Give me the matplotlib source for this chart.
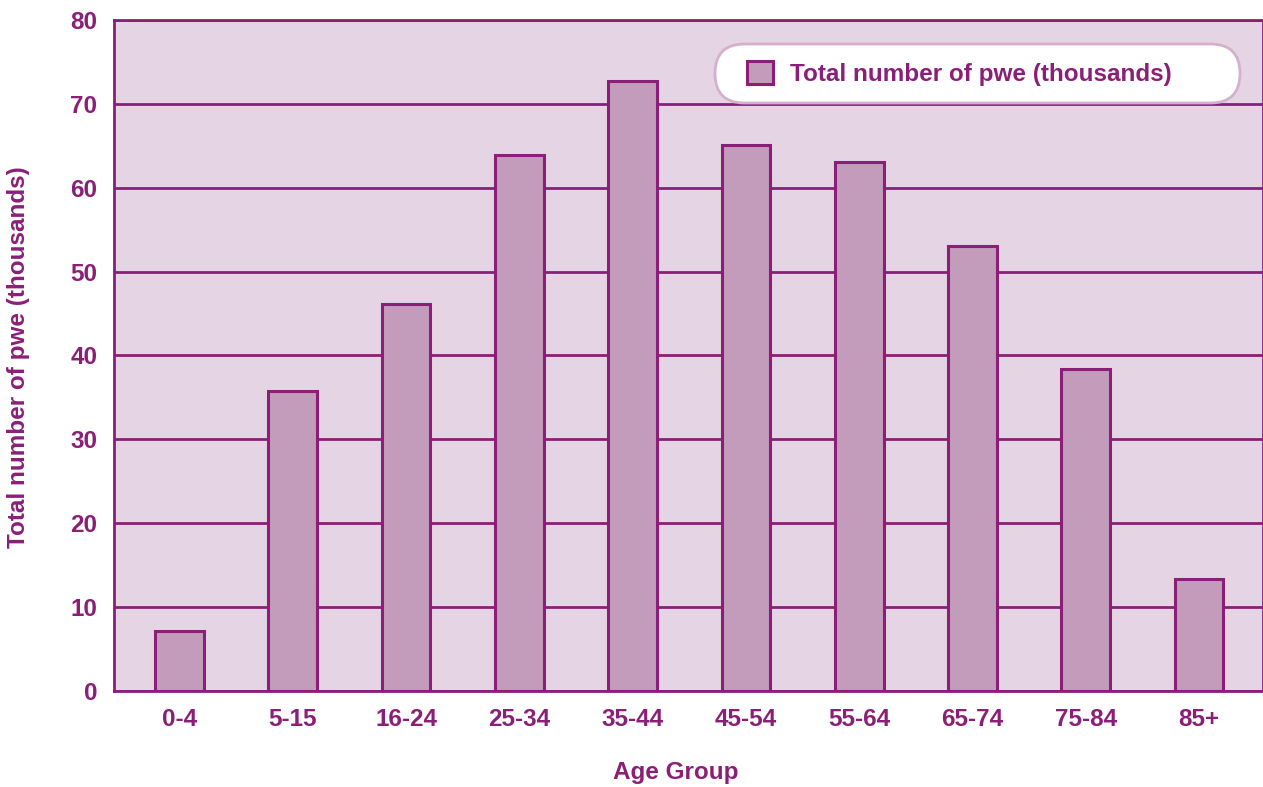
import matplotlib
matplotlib.use("Agg")
import matplotlib.pyplot as plt
from matplotlib.patches import FancyBboxPatch

# age bands and totals (thousands)
age_groups = ["0-4", "5-15", "16-24", "25-34", "35-44", "45-54", "55-64", "65-74", "75-84", "85+"]
pwe_totals = [7.1, 35.8, 46.1, 63.9, 72.7, 65.1, 63.1, 53.1, 38.4, 13.4]
y_ticks = [0, 10, 20, 30, 40, 50, 60, 70, 80]

PURPLE = "#8B1F78"
BAR_FILL = "#C39BBB"
PANEL = "#E5D4E4"
LEGEND_EDGE = "#D4B0CE"
FS = 17.5

plt.rcParams["font.family"] = ["Liberation Sans", "DejaVu Sans"]
plt.rcParams["font.weight"] = "bold"

fig = plt.figure(figsize=(12.63, 7.87), dpi=100)
ax = fig.add_axes([114 / 1263, 1 - 691 / 787, 1 - 114 / 1263, (691 - 20) / 787])
ax.set_facecolor(PANEL)

x = range(len(age_groups))
bars = ax.bar(x, pwe_totals, width=0.43, color=BAR_FILL, edgecolor=PURPLE,
              linewidth=2.2, zorder=3, label="Total number of pwe (thousands)")

ax.set_ylim(0, 80)
ax.set_xlim(-0.578, 9.565)
ax.set_yticks(y_ticks)
ax.set_xticks(list(x))
ax.set_xticklabels(age_groups)
ax.yaxis.grid(True, color=PURPLE, linewidth=2, zorder=1)
ax.set_axisbelow(True)
ax.tick_params(length=0, labelsize=FS, labelcolor=PURPLE)
ax.tick_params(axis="y", pad=12)
ax.tick_params(axis="x", pad=12)
for s in ax.spines.values():
    s.set_color(PURPLE)
    s.set_linewidth(2)

# axis titles placed in figure pixels
fig.text(676 / 1263, 1 - 773 / 787, "Age Group", fontsize=FS, color=PURPLE,
         fontweight="bold", ha="center", va="center")
fig.text(19 / 1263, 1 - 357 / 787, "Total number of pwe (thousands)", fontsize=FS,
         color=PURPLE, fontweight="bold", ha="center", va="center", rotation=90)

# rounded white box behind the legend
box = FancyBboxPatch((7.15, 6.84), 5.25, 0.59,
                     boxstyle="round,pad=0,rounding_size=0.295",
                     transform=fig.dpi_scale_trans, facecolor="white",
                     edgecolor=LEGEND_EDGE, linewidth=2, zorder=5, clip_on=False)
ax.add_patch(box)

leg = ax.legend(handles=[bars], loc="center left", frameon=False,
                bbox_to_anchor=(7.47, 7.135), bbox_transform=fig.dpi_scale_trans,
                borderpad=0, borderaxespad=0, handlelength=1.05, handleheight=1.05,
                handletextpad=0.7, fontsize=FS)
leg.set_zorder(6)
for t in leg.get_texts():
    t.set_color(PURPLE)

fig.savefig("out.png", dpi=100)
